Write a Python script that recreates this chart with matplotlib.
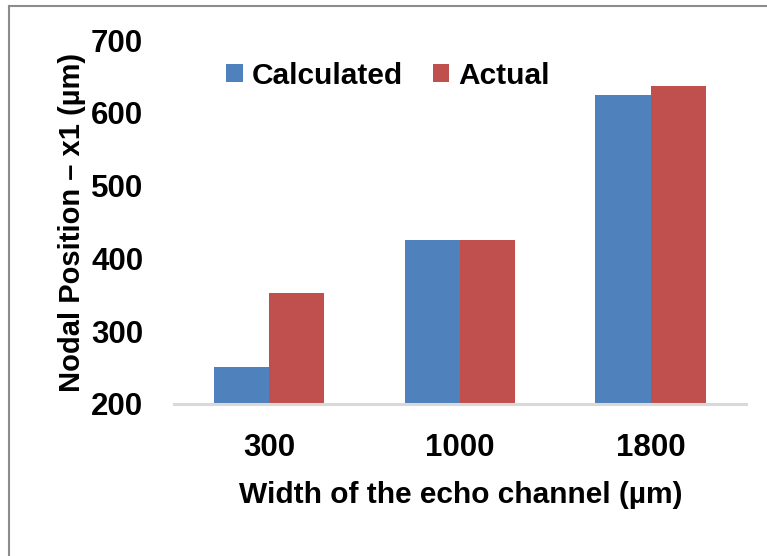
import numpy as np
import matplotlib.pyplot as plt
from matplotlib.lines import Line2D

# channel widths and nodal positions (um)
widths = ["300", "1000", "1800"]
calculated = [251, 425, 624]
actual = [353, 425, 637]

font = ["Liberation Sans", "DejaVu Sans"]

fig = plt.figure(figsize=(7.67, 5.56), dpi=100)
ax = fig.add_axes([0.2265, 0.2734, 0.7461, 0.6546])

x = np.arange(len(widths))
w = 0.29
ax.bar(x - w / 2, calculated, w, color="#4F81BD", label="Calculated", zorder=2)
ax.bar(x + w / 2, actual, w, color="#C0504D", label="Actual", zorder=2)

ax.set_xlim(-0.5, 2.5)
ax.set_ylim(200, 700)
ax.set_yticks(range(200, 701, 100))
ax.set_xticks(x)
ax.set_xticklabels(widths)

for s in ["top", "right", "left"]:
    ax.spines[s].set_visible(False)
ax.spines["bottom"].set_color("#D9D9D9")
ax.spines["bottom"].set_linewidth(2.2)
ax.spines["bottom"].set_zorder(3)

ax.tick_params(axis="both", length=0)
ax.tick_params(axis="y", pad=22)
ax.tick_params(axis="x", pad=21)
for lbl in ax.get_xticklabels() + ax.get_yticklabels():
    lbl.set_family(font)
    lbl.set_fontweight("bold")
    lbl.set_fontsize(22.5)

ax.set_ylabel("Nodal Position – x1 (µm)", family=font, fontweight="bold",
              fontsize=21)
ax.yaxis.set_label_coords(-0.153, 0.5)
ax.set_xlabel("Width of the echo channel (µm)", family=font,
              fontweight="bold", fontsize=21.5)
ax.xaxis.set_label_coords(0.502, -0.25)
ax.xaxis.label.set_va("center")

leg = ax.legend(loc="center left", bbox_to_anchor=(0.066, 0.902), ncol=2,
                frameon=False, borderpad=0, handlelength=0.55,
                handleheight=0.55, handletextpad=0.3, columnspacing=1.0,
                prop={"family": font, "weight": "bold", "size": 21.5})

# outer frame
fig.add_artist(Line2D([9 / 767, 1], [1 - 6 / 556, 1 - 6 / 556],
                      color="#8C8C8C", lw=1.5, transform=fig.transFigure))
fig.add_artist(Line2D([9 / 767, 9 / 767], [0, 1 - 6 / 556],
                      color="#8C8C8C", lw=1.5, transform=fig.transFigure))

fig.savefig("out.png", dpi=100)
